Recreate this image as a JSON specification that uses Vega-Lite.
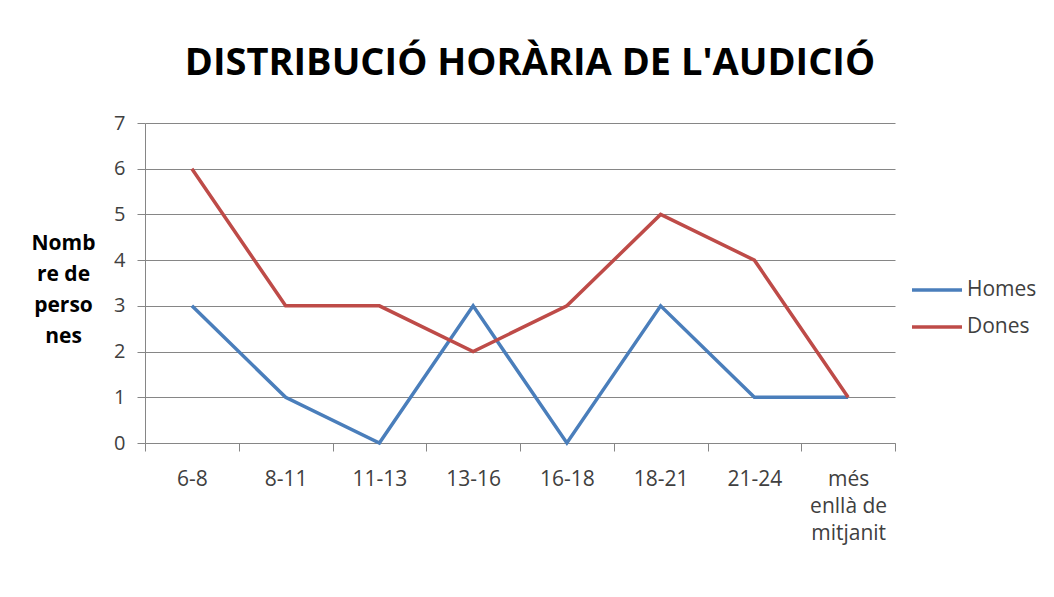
{
  "$schema": "https://vega.github.io/schema/vega-lite/v6.json",
  "width": 750,
  "height": 320,
  "autosize": "none",
  "padding": {"left": 145, "top": 123, "right": 159, "bottom": 154},
  "background": "white",
  "config": {"view": {"stroke": null}},
  "title": {
    "text": "DISTRIBUCIÓ HORÀRIA DE L'AUDICIÓ",
    "font": "Open Sans",
    "fontSize": 38,
    "fontWeight": "bold",
    "color": "black",
    "anchor": "middle",
    "frame": "group",
    "baseline": "alphabetic",
    "offset": 0,
    "dx": 10
  },
  "data": {
    "values": [
      {"hora": "6-8", "serie": "Homes", "valor": 3},
      {"hora": "8-11", "serie": "Homes", "valor": 1},
      {"hora": "11-13", "serie": "Homes", "valor": 0},
      {"hora": "13-16", "serie": "Homes", "valor": 3},
      {"hora": "16-18", "serie": "Homes", "valor": 0},
      {"hora": "18-21", "serie": "Homes", "valor": 3},
      {"hora": "21-24", "serie": "Homes", "valor": 1},
      {"hora": "més enllà de mitjanit", "serie": "Homes", "valor": 1},
      {"hora": "6-8", "serie": "Dones", "valor": 6},
      {"hora": "8-11", "serie": "Dones", "valor": 3},
      {"hora": "11-13", "serie": "Dones", "valor": 3},
      {"hora": "13-16", "serie": "Dones", "valor": 2},
      {"hora": "16-18", "serie": "Dones", "valor": 3},
      {"hora": "18-21", "serie": "Dones", "valor": 5},
      {"hora": "21-24", "serie": "Dones", "valor": 4},
      {"hora": "més enllà de mitjanit", "serie": "Dones", "valor": 1}
    ]
  },
  "mark": {"type": "line", "strokeWidth": 3.5},
  "encoding": {
    "x": {
      "field": "hora",
      "type": "ordinal",
      "sort": null,
      "scale": {"type": "band"},
      "axis": {
        "title": null,
        "labelAngle": 0,
        "tickBand": "extent",
        "grid": false,
        "domainColor": "#868686",
        "tickColor": "#868686",
        "tickSize": 8,
        "labelFont": "Open Sans",
        "labelFontSize": 21,
        "labelColor": "#404040",
        "labelPadding": 17,
        "labelLineHeight": 27,
        "labelExpr": "datum.label == 'més enllà de mitjanit' ? ['més', 'enllà de', 'mitjanit'] : datum.label"
      }
    },
    "y": {
      "field": "valor",
      "type": "quantitative",
      "scale": {"domain": [0, 7], "nice": false},
      "axis": {
        "values": [0, 1, 2, 3, 4, 5, 6, 7],
        "grid": true,
        "gridColor": "#868686",
        "domainColor": "#868686",
        "tickColor": "#868686",
        "tickSize": 8,
        "labelFont": "Open Sans",
        "labelFontSize": 20,
        "labelColor": "#404040",
        "labelPadding": 12,
        "title": ["Nomb", "re de", "perso", "nes"],
        "titleFont": "Open Sans",
        "titleFontSize": 21,
        "titleFontWeight": "bold",
        "titleColor": "black",
        "titleAngle": 0,
        "titleAlign": "center",
        "titleBaseline": "top",
        "titleLineHeight": 31,
        "titleX": -82,
        "titleY": 109
      }
    },
    "color": {
      "field": "serie",
      "type": "nominal",
      "scale": {"domain": ["Homes", "Dones"], "range": ["#4A7EBB", "#BE4B48"]},
      "legend": {
        "title": null,
        "orient": "none",
        "legendX": 765,
        "legendY": 140,
        "symbolType": "stroke",
        "symbolSize": 2500,
        "symbolStrokeWidth": 3.5,
        "labelFont": "Open Sans",
        "labelFontSize": 21,
        "labelColor": "#404040",
        "labelOffset": 3,
        "rowPadding": -12
      }
    }
  }
}
